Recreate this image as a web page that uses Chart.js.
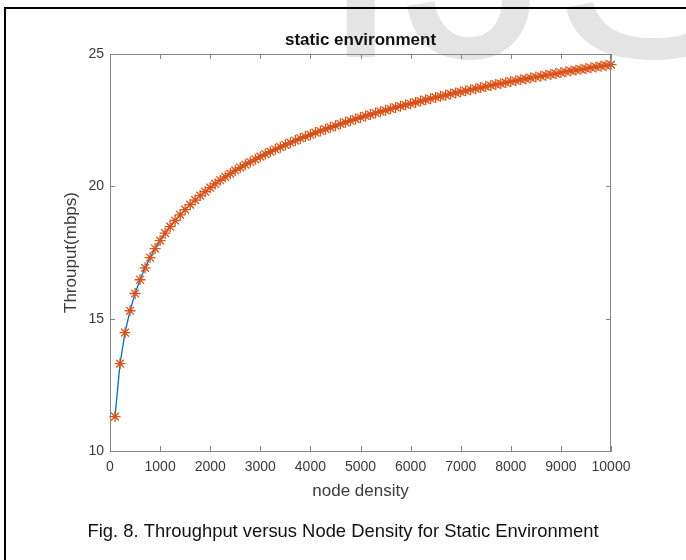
<!DOCTYPE html>
<html>
<head>
<meta charset="utf-8">
<script src="https://cdn.jsdelivr.net/npm/chart.js@4.4.1/dist/chart.umd.min.js"></script>
<style>
  html, body { margin: 0; padding: 0; background: #fff; }
  #wrap { width: 686px; height: 560px; }
</style>
</head>
<body>
<div id="wrap"><canvas id="chart" width="686" height="560"></canvas></div>
<script>
// node density (x) and throughput
const nodeDensity = [
  100, 200, 300, 400, 500, 600, 700, 800, 900, 1000,
  1100, 1200, 1300, 1400, 1500, 1600, 1700, 1800, 1900, 2000,
  2100, 2200, 2300, 2400, 2500, 2600, 2700, 2800, 2900, 3000,
  3100, 3200, 3300, 3400, 3500, 3600, 3700, 3800, 3900, 4000,
  4100, 4200, 4300, 4400, 4500, 4600, 4700, 4800, 4900, 5000,
  5100, 5200, 5300, 5400, 5500, 5600, 5700, 5800, 5900, 6000,
  6100, 6200, 6300, 6400, 6500, 6600, 6700, 6800, 6900, 7000,
  7100, 7200, 7300, 7400, 7500, 7600, 7700, 7800, 7900, 8000,
  8100, 8200, 8300, 8400, 8500, 8600, 8700, 8800, 8900, 9000,
  9100, 9200, 9300, 9400, 9500, 9600, 9700, 9800, 9900, 10000
];
const throughput = [
  11.30, 13.30, 14.47, 15.30, 15.95, 16.47, 16.92, 17.31, 17.65, 17.95,
  18.23, 18.48, 18.71, 18.92, 19.12, 19.31, 19.48, 19.65, 19.80, 19.95,
  20.09, 20.23, 20.36, 20.48, 20.60, 20.71, 20.82, 20.92, 21.02, 21.12,
  21.22, 21.31, 21.40, 21.48, 21.57, 21.65, 21.73, 21.81, 21.88, 21.95,
  22.03, 22.09, 22.16, 22.23, 22.29, 22.36, 22.42, 22.48, 22.54, 22.60,
  22.66, 22.71, 22.77, 22.82, 22.87, 22.93, 22.98, 23.03, 23.08, 23.12,
  23.17, 23.22, 23.27, 23.31, 23.36, 23.40, 23.44, 23.49, 23.53, 23.57,
  23.61, 23.65, 23.69, 23.73, 23.77, 23.81, 23.85, 23.88, 23.92, 23.96,
  23.99, 24.03, 24.06, 24.10, 24.13, 24.16, 24.20, 24.23, 24.26, 24.30,
  24.33, 24.36, 24.39, 24.42, 24.45, 24.48, 24.51, 24.54, 24.57, 24.60
];
const xTicks = [0, 1000, 2000, 3000, 4000, 5000, 6000, 7000, 8000, 9000, 10000];
const yTicks = [10, 15, 20, 25];

const titleText = 'static environment';
const xLabel = 'node density';
const yLabel = 'Throuput(mbps)';
const captionText = 'Fig. 8. Throughput versus Node Density for Static Environment';

const FONT = '"Liberation Sans", Arial, Helvetica, sans-serif';
const AXIS_GRAY = '#858585';
const TEXT_GRAY = '#3a3a3a';

// page furniture: watermark, frame, box, inward ticks, labels, caption
const figureDecor = {
  id: 'figureDecor',
  beforeDraw(chart) {
    const ctx = chart.ctx;
    ctx.save();
    ctx.fillStyle = '#fff';
    ctx.fillRect(0, 0, chart.width, chart.height);

    ctx.fillStyle = '#e4e4e4';
    ctx.font = '300px ' + FONT;
    ctx.textBaseline = 'alphabetic';
    ctx.textAlign = 'left';
    ctx.fillText('IJSER', 319, 57);

    ctx.fillStyle = '#000';
    ctx.fillRect(4, 7, chart.width - 4, 2);
    ctx.fillRect(4, 7, 2, chart.height - 7);
    ctx.restore();
  },
  afterDraw(chart) {
    const ctx = chart.ctx;
    const a = chart.chartArea;
    const xs = chart.scales.x;
    const ys = chart.scales.y;
    ctx.save();
    ctx.strokeStyle = AXIS_GRAY;
    ctx.lineWidth = 1;
    ctx.beginPath();
    ctx.moveTo(a.left, a.top + 0.5);
    ctx.lineTo(a.right, a.top + 0.5);
    ctx.moveTo(a.right - 0.5, a.top);
    ctx.lineTo(a.right - 0.5, a.bottom);
    xTicks.forEach(v => {
      const px = Math.round(xs.getPixelForValue(v)) + 0.5;
      ctx.moveTo(px, a.bottom);
      ctx.lineTo(px, a.bottom - 5);
      ctx.moveTo(px, a.top);
      ctx.lineTo(px, a.top + 5);
    });
    yTicks.forEach(v => {
      const py = Math.round(ys.getPixelForValue(v)) + 0.5;
      ctx.moveTo(a.left, py);
      ctx.lineTo(a.left + 5, py);
      ctx.moveTo(a.right, py);
      ctx.lineTo(a.right - 5, py);
    });
    ctx.stroke();

    ctx.textAlign = 'center';
    ctx.textBaseline = 'middle';
    ctx.fillStyle = '#111';
    ctx.font = 'bold 17px ' + FONT;
    ctx.fillText(titleText, (a.left + a.right) / 2, 40);

    ctx.fillStyle = TEXT_GRAY;
    ctx.font = '17px ' + FONT;
    ctx.fillText(xLabel, (a.left + a.right) / 2, 491);

    ctx.save();
    ctx.translate(71, (a.top + a.bottom) / 2);
    ctx.rotate(-Math.PI / 2);
    ctx.fillText(yLabel, 0, 0);
    ctx.restore();

    ctx.fillStyle = '#111';
    ctx.font = '18.4px ' + FONT;
    ctx.fillText(captionText, 343, 532);
    ctx.restore();
  }
};

const points = nodeDensity.map((x, i) => ({ x: x, y: throughput[i] }));

new Chart(document.getElementById('chart'), {
  type: 'line',
  data: {
    datasets: [{
      label: 'throughput',
      data: points,
      borderColor: '#0072BD',
      borderWidth: 1.3,
      tension: 0,
      clip: false,
      pointStyle: 'star',
      pointRadius: 5.5,
      pointBorderColor: '#D95319',
      pointBackgroundColor: '#D95319',
      pointBorderWidth: 1.3,
      pointHoverRadius: 5.5
    }]
  },
  options: {
    responsive: false,
    animation: false,
    events: [],
    layout: { padding: { top: 54, right: 75, left: 0, bottom: 0 } },
    scales: {
      x: {
        type: 'linear',
        min: 0,
        max: 10000,
        afterBuildTicks: s => { s.ticks = xTicks.map(v => ({ value: v })); },
        afterFit: s => { s.height = 109; },
        grid: { display: false, drawTicks: false },
        border: { display: true, color: AXIS_GRAY, width: 1 },
        ticks: {
          padding: 8,
          color: TEXT_GRAY,
          font: { family: FONT, size: 14 },
          maxRotation: 0,
          autoSkip: false,
          callback: v => String(v)
        }
      },
      y: {
        type: 'linear',
        min: 10,
        max: 25,
        afterBuildTicks: s => { s.ticks = yTicks.map(v => ({ value: v })); },
        afterFit: s => { s.width = 110; },
        grid: { display: false, drawTicks: false },
        border: { display: true, color: AXIS_GRAY, width: 1 },
        ticks: {
          padding: 6,
          color: TEXT_GRAY,
          font: { family: FONT, size: 14 },
          callback: v => String(v)
        }
      }
    },
    plugins: {
      legend: { display: false },
      title: { display: false },
      tooltip: { enabled: false }
    }
  },
  plugins: [figureDecor]
});
</script>
</body>
</html>
